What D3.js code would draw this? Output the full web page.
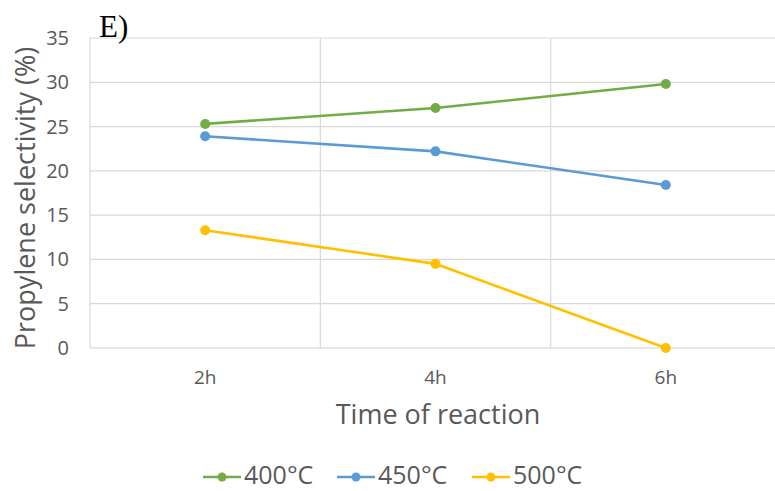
<!DOCTYPE html>
<html>
<head>
<meta charset="utf-8">
<script src="https://cdn.jsdelivr.net/npm/d3@7"></script>
<style>
  html, body { margin: 0; padding: 0; background: #fff; }
  svg { display: block; }
  text { font-family: "Open Sans", "Noto Sans", sans-serif; fill: #595959; }
</style>
</head>
<body>
<svg id="chart" width="775" height="491"></svg>
<script>
// Reaction times (categories)
const times = ["2h", "4h", "6h"];
// Temperatures (series names)
const seriesNames = ["400°C", "450°C", "500°C"];
// Propylene selectivity (%) per temperature
const sel400 = [25.3, 27.1, 29.8];
const sel450 = [23.9, 22.2, 18.4];
const sel500 = [13.3, 9.5, 0.0];
// Y-axis tick values
const yTicks = [0, 5, 10, 15, 20, 25, 30, 35];

const colors = ["#70AD47", "#5B9BD5", "#FFC000"];
const series = [sel400, sel450, sel500].map((v, i) => ({ name: seriesNames[i], values: v, color: colors[i] }));

const svg = d3.select("#chart");
const margin = { left: 90, right: -6, top: 38, bottom: 143 };
const W = 775, H = 491;
const x0 = margin.left, x1 = W - margin.right;
const y0 = H - margin.bottom, y1 = margin.top;

const x = d3.scaleBand().domain(times).range([x0, x1]).padding(0);
const y = d3.scaleLinear().domain([0, 35]).range([y0, y1]);

// Horizontal gridlines
svg.append("g").selectAll("line").data(yTicks).join("line")
  .attr("x1", x0).attr("x2", x1)
  .attr("y1", d => y(d)).attr("y2", d => y(d))
  .attr("stroke", d => d === 0 ? "#d0d0d0" : "#d9d9d9").attr("stroke-width", 1.2);

// Vertical category separators
const bounds = times.map(t => x(t)).concat([x1]);
svg.append("g").selectAll("line").data(bounds).join("line")
  .attr("x1", d => d).attr("x2", d => d)
  .attr("y1", y1).attr("y2", y0)
  .attr("stroke", "#d9d9d9").attr("stroke-width", 1.2);

// Y tick labels
svg.append("g").selectAll("text").data(yTicks).join("text")
  .attr("x", 69).attr("y", d => y(d)).attr("dy", "0.35em")
  .attr("text-anchor", "end").attr("font-size", 20).text(d => d);

// X tick labels
svg.append("g").selectAll("text").data(times).join("text")
  .attr("x", d => x(d) + x.bandwidth() / 2).attr("y", 384)
  .attr("text-anchor", "middle").attr("font-size", 19).text(d => d);

// Axis titles
svg.append("text").attr("x", 438).attr("y", 424)
  .attr("text-anchor", "middle").attr("font-size", 27).text("Time of reaction");
svg.append("text")
  .attr("transform", "translate(26,198) rotate(-90)")
  .attr("dy", "0.35em").attr("text-anchor", "middle").attr("font-size", 27)
  .text("Propylene selectivity (%)");

// Panel label
svg.append("text").attr("x", 99).attr("y", 37)
  .style("font-family", "'Liberation Serif', 'DejaVu Serif', serif").style("fill", "#000")
  .attr("font-size", 31).text("E)");

// Lines and markers
const line = d3.line().x((d, i) => x(times[i]) + x.bandwidth() / 2).y(d => y(d));
const g = svg.append("g");
series.forEach(s => {
  g.append("path").datum(s.values).attr("d", line)
    .attr("fill", "none").attr("stroke", s.color).attr("stroke-width", 2.6);
  g.selectAll(null).data(s.values).join("circle")
    .attr("cx", (d, i) => x(times[i]) + x.bandwidth() / 2).attr("cy", d => y(d))
    .attr("r", 5).attr("fill", s.color);
});

// Legend
const legendX = [203, 337, 472];
const lg = svg.append("g");
series.forEach((s, i) => {
  const lx = legendX[i], ly = 477;
  lg.append("line").attr("x1", lx).attr("x2", lx + 38).attr("y1", ly).attr("y2", ly)
    .attr("stroke", s.color).attr("stroke-width", 2.6);
  lg.append("circle").attr("cx", lx + 19).attr("cy", ly).attr("r", 4.5).attr("fill", s.color);
  lg.append("text").attr("x", lx + 41).attr("y", 484)
    .attr("font-size", 25).text(s.name);
});
</script>
</body>
</html>
